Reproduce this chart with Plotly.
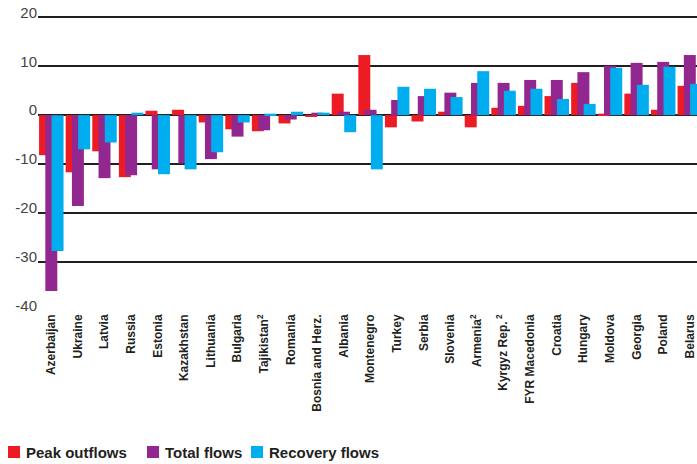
import plotly.graph_objects as go

# 국가 목록 (x축 카테고리)
countries = ["Azerbaijan", "Ukraine", "Latvia", "Russia", "Estonia", "Kazakhstan",
             "Lithuania", "Bulgaria", "Tajikistan<sup>2</sup>", "Romania",
             "Bosnia and Herz.", "Albania", "Montenegro", "Turkey", "Serbia",
             "Slovenia", "Armenia<sup>2</sup>", "Kyrgyz Rep.<sup> 2</sup>",
             "FYR Macedonia", "Croatia", "Hungary", "Moldova", "Georgia",
             "Poland", "Belarus"]

peak_outflows = [-8.2, -11.7, -7.4, -12.7, 0.9, 1.1, -1.5, -2.9, -3.3, -1.7,
                 -0.3, 4.4, 12.3, -2.5, -1.3, 0.7, -2.5, 1.5, 1.9, 3.9,
                 6.6, 0.3, 4.4, 1.1, 6.0]
total_flows = [-36.0, -18.6, -12.9, -12.3, -11.1, -9.9, -9.0, -4.4, -3.1, -0.9,
               0.5, 0.7, 1.1, 3.1, 3.9, 4.6, 6.6, 6.6, 7.2, 7.2,
               8.8, 10.1, 10.7, 10.9, 12.3]
recovery_flows = [-27.8, -7.0, -5.6, 0.5, -12.1, -11.1, -7.6, -1.5, 0.3, 0.7,
                  0.5, -3.5, -11.1, 5.8, 5.4, 3.7, 9.0, 5.0, 5.4, 3.3,
                  2.3, 9.7, 6.2, 9.9, 6.4]

y_ticks = [20, 10, 0, -10, -20, -30, -40]

W, H = 697, 464
M_L, M_R, M_T, M_B = 38, 0, 15, 153
plot_w = W - M_L - M_R
plot_h = H - M_T - M_B

# (이름, 값, 색, 막대 오프셋, 범례 사각형 x 위치(px))
series = [
    ("Peak outflows", peak_outflows, "#ED1C24", -0.46, 8),
    ("Total flows", total_flows, "#92278F", -0.225, 147),
    ("Recovery flows", recovery_flows, "#00AEEF", 0.01, 251),
]

fig = go.Figure()
for name, vals, color, off, _ in series:
    fig.add_trace(go.Bar(
        x=list(range(len(countries))),
        y=vals,
        name=name,
        marker=dict(color=color, line=dict(width=0)),
        width=0.45,
        offset=off,
    ))

# 범례 (사각형 + 텍스트) - 픽셀 위치를 paper 좌표로 변환
def px_x(px):
    return (px - M_L) / plot_w

def px_y(py):
    return (H - M_B - py) / plot_h

for name, vals, color, off, lx in series:
    fig.add_shape(type="rect", xref="paper", yref="paper",
                  x0=px_x(lx), x1=px_x(lx + 12), y0=px_y(458), y1=px_y(446),
                  fillcolor=color, line=dict(width=0))
    fig.add_annotation(text="<b>" + name + "</b>", xref="paper", yref="paper",
                       x=px_x(lx + 16), y=px_y(452), xanchor="left", yanchor="middle",
                       showarrow=False, font=dict(size=15, color="#231F20"))

fig.update_layout(
    width=W,
    height=H,
    barmode="overlay",
    plot_bgcolor="white",
    paper_bgcolor="white",
    margin=dict(l=M_L, r=M_R, t=M_T, b=M_B, autoexpand=False),
    font=dict(family="Liberation Sans, Arial, sans-serif", color="#231F20"),
    showlegend=False,
)

fig.update_xaxes(
    tickmode="array",
    tickvals=list(range(len(countries))),
    ticktext=countries,
    tickangle=-90,
    tickfont=dict(size=12, weight="bold", color="#231F20"),
    range=[-0.5, 24.27],
    showgrid=False,
    zeroline=False,
    showline=False,
    ticks="",
    automargin=False,
)

fig.update_yaxes(
    range=[-40.1, 20.5],
    tickvals=y_ticks,
    ticktext=[str(v) for v in y_ticks],
    tickfont=dict(size=15, color="#444444"),
    ticklabelshift=-5,
    showgrid=True,
    gridcolor="#231F20",
    gridwidth=1.5,
    zeroline=True,
    zerolinecolor="#231F20",
    zerolinewidth=1.5,
    ticks="",
    automargin=False,
)

fig.write_html("out.html", config={"displayModeBar": False},
               post_script="document.body.style.margin='0';")
